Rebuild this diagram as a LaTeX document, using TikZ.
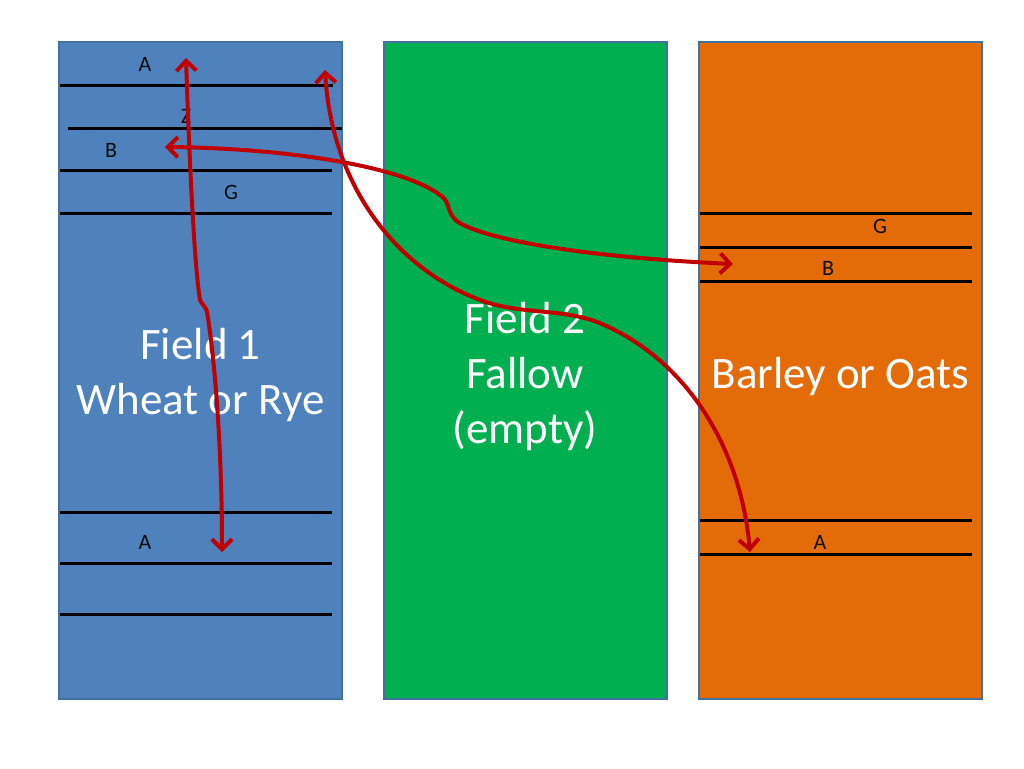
\documentclass[tikz,border=0pt]{standalone}
\usepackage{fontspec}
\setmainfont{Carlito}
\usetikzlibrary{arrows.meta}
\definecolor{fblue}{HTML}{4F81BD}
\definecolor{fgreen}{HTML}{00B050}
\definecolor{forange}{HTML}{E36C09}
\definecolor{fborder}{HTML}{41719C}
\definecolor{arrred}{HTML}{C00000}
\definecolor{labelblack}{HTML}{0D0D0D}
\tikzset{
  field/.style={draw=fborder, line width=2pt, minimum width=283pt, minimum height=657pt, inner sep=0pt},
  row/.style={line width=3pt, black},
  biglabel/.style={text=white, align=center, font=\fontsize{45}{55}\selectfont, inner sep=0pt},
  smalllabel/.style={text=labelblack, font=\fontsize{22}{26}\selectfont, inner sep=0pt},
  redarrow/.style={draw=arrred, line width=4pt,
    {Straight Barb[length=10pt,width=20pt,line width=4pt]}-{Straight Barb[length=10pt,width=20pt,line width=4pt]}}
}
\begin{document}
\begin{tikzpicture}[x=1pt,y=-1pt]
\useasboundingbox (0,0) rectangle (1024,768);
\fill[white] (0,0) rectangle (1024,768);
% fields
\node[field, fill=fblue] (f1) at (200.5,370.5) {};
\node[field, fill=fgreen] (f2) at (525,370.5) {};
\node[field, fill=forange] (f3) at (840.5,370.5) {};
% rows field 1
\draw[row] (60,85) -- (333,85);
\draw[row] (68,128) -- (342,128);
\draw[row] (60,170) -- (332,170);
\draw[row] (60,213) -- (332,213);
\draw[row] (60,512) -- (332,512);
\draw[row] (60,563) -- (332,563);
\draw[row] (60,614) -- (332,614);
% rows field 3
\draw[row] (700,213) -- (972,213);
\draw[row] (700,247) -- (972,247);
\draw[row] (700,281) -- (972,281);
\draw[row] (700,520) -- (972,520);
\draw[row] (700,554) -- (972,554);
% small labels
\node[smalllabel] (la1) at (145,64) {A};
\node[smalllabel] (lz) at (186,116) {Z};
\node[smalllabel] (lb1) at (111,150) {B};
\node[smalllabel] (lg1) at (231,192) {G};
\node[smalllabel] (la2) at (145,542) {A};
\node[smalllabel] (lg3) at (880,226) {G};
\node[smalllabel] (lb3) at (828,268) {B};
\node[smalllabel] (la3) at (820,542) {A};
% big labels
\node[biglabel] (t1) at (200.5,375) {Field 1\\Wheat or Rye};
\node[biglabel] (t2) at (525,376) {Field 2\\Fallow\\(empty)};
\node[biglabel] (t3) at (840.5,376) {Barley or Oats};
% arrow coordinates
\coordinate (a1t) at (186,58);
\coordinate (a1k) at (200,300);
\coordinate (a1j) at (207,312);
\coordinate (a1b) at (222,552);
\coordinate (a2t) at (325,70);
\coordinate (a2m) at (480,300);
\coordinate (a2n) at (597,322);
\coordinate (a2b) at (750,552);
\coordinate (a3l) at (165,147);
\coordinate (a3m) at (440,195);
\coordinate (a3n) at (458,222);
\coordinate (a3r) at (733,264);
% arrows
\draw[redarrow] (a1t) .. controls (190,180) and (195,270) .. (a1k) .. controls (202,305) and (205,305) .. (a1j) .. controls (215,360) and (222,450) .. (a1b);
\draw[redarrow] (a2t) .. controls (332,190) and (400,270) .. (a2m) .. controls (520,315) and (560,308) .. (a2n) .. controls (680,355) and (740,440) .. (a2b);
\draw[redarrow] (a3l) .. controls (280,148) and (400,165) .. (a3m) .. controls (452,203) and (445,212) .. (a3n) .. controls (490,242) and (600,258) .. (a3r);
\end{tikzpicture}
\end{document}
